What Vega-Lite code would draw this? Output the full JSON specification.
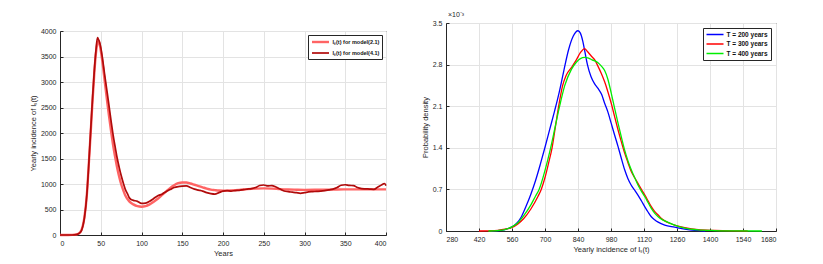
{
  "$schema": "https://vega.github.io/schema/vega-lite/v6.json",
  "padding": {"left": 28, "top": 10, "right": 5, "bottom": 4},
  "background": "white",
  "spacing": 28,
  "resolve": {"scale": {"color": "independent", "strokeWidth": "independent"}, "legend": {"color": "independent", "strokeWidth": "independent"}},
  "config": {
    "font": "Liberation Sans",
    "view": {"stroke": "#262626", "strokeWidth": 1},
    "axis": {"labelFont": "Liberation Sans", "labelFontSize": 7, "labelColor": "#262626", "titleFont": "Liberation Sans", "titleFontSize": 7.5, "titleFontWeight": "normal", "titleColor": "#262626", "domainColor": "#262626", "gridColor": "#e3e3e3", "ticks": true, "tickSize": -3, "tickColor": "#262626", "labelPadding": 7, "titlePadding": 3, "format": "d"},
    "legend": {"orient": "top-right", "offset": 5, "fillColor": "white", "strokeColor": "#262626", "padding": 2.5, "labelFont": "Liberation Sans", "labelFontSize": 6.5, "labelFontWeight": "bold", "labelColor": "#111", "symbolType": "M-1,0H4.67", "symbolSize": 36, "symbolStrokeWidth": 1.5, "labelOffset": 13, "rowPadding": 1.5, "title": null}
  },
  "datasets": {
    "incidence": [
      {"year": 0, "series": "Iₛ(t) for model(2.1)", "value": 0},
      {"year": 10, "series": "Iₛ(t) for model(2.1)", "value": 0},
      {"year": 15, "series": "Iₛ(t) for model(2.1)", "value": 2},
      {"year": 20, "series": "Iₛ(t) for model(2.1)", "value": 10},
      {"year": 25, "series": "Iₛ(t) for model(2.1)", "value": 60},
      {"year": 28, "series": "Iₛ(t) for model(2.1)", "value": 180},
      {"year": 30, "series": "Iₛ(t) for model(2.1)", "value": 350},
      {"year": 33, "series": "Iₛ(t) for model(2.1)", "value": 800},
      {"year": 35, "series": "Iₛ(t) for model(2.1)", "value": 1300},
      {"year": 38, "series": "Iₛ(t) for model(2.1)", "value": 2100},
      {"year": 40, "series": "Iₛ(t) for model(2.1)", "value": 2650},
      {"year": 42, "series": "Iₛ(t) for model(2.1)", "value": 3150},
      {"year": 44, "series": "Iₛ(t) for model(2.1)", "value": 3550},
      {"year": 46, "series": "Iₛ(t) for model(2.1)", "value": 3770},
      {"year": 47, "series": "Iₛ(t) for model(2.1)", "value": 3800},
      {"year": 48, "series": "Iₛ(t) for model(2.1)", "value": 3780},
      {"year": 50, "series": "Iₛ(t) for model(2.1)", "value": 3620},
      {"year": 52, "series": "Iₛ(t) for model(2.1)", "value": 3400},
      {"year": 55, "series": "Iₛ(t) for model(2.1)", "value": 3000},
      {"year": 58, "series": "Iₛ(t) for model(2.1)", "value": 2600},
      {"year": 60, "series": "Iₛ(t) for model(2.1)", "value": 2350},
      {"year": 63, "series": "Iₛ(t) for model(2.1)", "value": 2000},
      {"year": 65, "series": "Iₛ(t) for model(2.1)", "value": 1780},
      {"year": 68, "series": "Iₛ(t) for model(2.1)", "value": 1500},
      {"year": 70, "series": "Iₛ(t) for model(2.1)", "value": 1330},
      {"year": 73, "series": "Iₛ(t) for model(2.1)", "value": 1120},
      {"year": 75, "series": "Iₛ(t) for model(2.1)", "value": 1000},
      {"year": 78, "series": "Iₛ(t) for model(2.1)", "value": 860},
      {"year": 80, "series": "Iₛ(t) for model(2.1)", "value": 780},
      {"year": 85, "series": "Iₛ(t) for model(2.1)", "value": 660},
      {"year": 90, "series": "Iₛ(t) for model(2.1)", "value": 600},
      {"year": 95, "series": "Iₛ(t) for model(2.1)", "value": 565},
      {"year": 100, "series": "Iₛ(t) for model(2.1)", "value": 555},
      {"year": 105, "series": "Iₛ(t) for model(2.1)", "value": 565},
      {"year": 110, "series": "Iₛ(t) for model(2.1)", "value": 600},
      {"year": 115, "series": "Iₛ(t) for model(2.1)", "value": 650},
      {"year": 120, "series": "Iₛ(t) for model(2.1)", "value": 710},
      {"year": 125, "series": "Iₛ(t) for model(2.1)", "value": 780},
      {"year": 130, "series": "Iₛ(t) for model(2.1)", "value": 850},
      {"year": 135, "series": "Iₛ(t) for model(2.1)", "value": 920},
      {"year": 140, "series": "Iₛ(t) for model(2.1)", "value": 975},
      {"year": 145, "series": "Iₛ(t) for model(2.1)", "value": 1015},
      {"year": 150, "series": "Iₛ(t) for model(2.1)", "value": 1030},
      {"year": 155, "series": "Iₛ(t) for model(2.1)", "value": 1030},
      {"year": 160, "series": "Iₛ(t) for model(2.1)", "value": 1010},
      {"year": 165, "series": "Iₛ(t) for model(2.1)", "value": 985},
      {"year": 170, "series": "Iₛ(t) for model(2.1)", "value": 960},
      {"year": 175, "series": "Iₛ(t) for model(2.1)", "value": 935},
      {"year": 180, "series": "Iₛ(t) for model(2.1)", "value": 910},
      {"year": 185, "series": "Iₛ(t) for model(2.1)", "value": 890},
      {"year": 190, "series": "Iₛ(t) for model(2.1)", "value": 880},
      {"year": 195, "series": "Iₛ(t) for model(2.1)", "value": 872},
      {"year": 200, "series": "Iₛ(t) for model(2.1)", "value": 870},
      {"year": 210, "series": "Iₛ(t) for model(2.1)", "value": 875},
      {"year": 220, "series": "Iₛ(t) for model(2.1)", "value": 885},
      {"year": 230, "series": "Iₛ(t) for model(2.1)", "value": 900},
      {"year": 240, "series": "Iₛ(t) for model(2.1)", "value": 910},
      {"year": 250, "series": "Iₛ(t) for model(2.1)", "value": 915},
      {"year": 260, "series": "Iₛ(t) for model(2.1)", "value": 910},
      {"year": 270, "series": "Iₛ(t) for model(2.1)", "value": 900},
      {"year": 280, "series": "Iₛ(t) for model(2.1)", "value": 893},
      {"year": 290, "series": "Iₛ(t) for model(2.1)", "value": 888},
      {"year": 300, "series": "Iₛ(t) for model(2.1)", "value": 885},
      {"year": 320, "series": "Iₛ(t) for model(2.1)", "value": 888},
      {"year": 340, "series": "Iₛ(t) for model(2.1)", "value": 893},
      {"year": 360, "series": "Iₛ(t) for model(2.1)", "value": 895},
      {"year": 380, "series": "Iₛ(t) for model(2.1)", "value": 895},
      {"year": 400, "series": "Iₛ(t) for model(2.1)", "value": 895},
      {"year": 0, "series": "Iₛ(t) for model(4.1)", "value": 0},
      {"year": 15, "series": "Iₛ(t) for model(4.1)", "value": 0},
      {"year": 20, "series": "Iₛ(t) for model(4.1)", "value": 8},
      {"year": 25, "series": "Iₛ(t) for model(4.1)", "value": 50},
      {"year": 28, "series": "Iₛ(t) for model(4.1)", "value": 170},
      {"year": 30, "series": "Iₛ(t) for model(4.1)", "value": 340},
      {"year": 33, "series": "Iₛ(t) for model(4.1)", "value": 800},
      {"year": 35, "series": "Iₛ(t) for model(4.1)", "value": 1300},
      {"year": 38, "series": "Iₛ(t) for model(4.1)", "value": 2150},
      {"year": 40, "series": "Iₛ(t) for model(4.1)", "value": 2700},
      {"year": 42, "series": "Iₛ(t) for model(4.1)", "value": 3200},
      {"year": 44, "series": "Iₛ(t) for model(4.1)", "value": 3600},
      {"year": 46, "series": "Iₛ(t) for model(4.1)", "value": 3870},
      {"year": 47, "series": "Iₛ(t) for model(4.1)", "value": 3840},
      {"year": 48, "series": "Iₛ(t) for model(4.1)", "value": 3810},
      {"year": 50, "series": "Iₛ(t) for model(4.1)", "value": 3680},
      {"year": 52, "series": "Iₛ(t) for model(4.1)", "value": 3480},
      {"year": 55, "series": "Iₛ(t) for model(4.1)", "value": 3120},
      {"year": 58, "series": "Iₛ(t) for model(4.1)", "value": 2780},
      {"year": 60, "series": "Iₛ(t) for model(4.1)", "value": 2550},
      {"year": 63, "series": "Iₛ(t) for model(4.1)", "value": 2200},
      {"year": 65, "series": "Iₛ(t) for model(4.1)", "value": 1980},
      {"year": 68, "series": "Iₛ(t) for model(4.1)", "value": 1700},
      {"year": 70, "series": "Iₛ(t) for model(4.1)", "value": 1520},
      {"year": 73, "series": "Iₛ(t) for model(4.1)", "value": 1300},
      {"year": 75, "series": "Iₛ(t) for model(4.1)", "value": 1170},
      {"year": 78, "series": "Iₛ(t) for model(4.1)", "value": 1000},
      {"year": 80, "series": "Iₛ(t) for model(4.1)", "value": 900},
      {"year": 83, "series": "Iₛ(t) for model(4.1)", "value": 800},
      {"year": 85, "series": "Iₛ(t) for model(4.1)", "value": 730},
      {"year": 88, "series": "Iₛ(t) for model(4.1)", "value": 690},
      {"year": 90, "series": "Iₛ(t) for model(4.1)", "value": 680},
      {"year": 95, "series": "Iₛ(t) for model(4.1)", "value": 660},
      {"year": 100, "series": "Iₛ(t) for model(4.1)", "value": 620},
      {"year": 105, "series": "Iₛ(t) for model(4.1)", "value": 625},
      {"year": 110, "series": "Iₛ(t) for model(4.1)", "value": 660},
      {"year": 115, "series": "Iₛ(t) for model(4.1)", "value": 715},
      {"year": 120, "series": "Iₛ(t) for model(4.1)", "value": 770},
      {"year": 125, "series": "Iₛ(t) for model(4.1)", "value": 800},
      {"year": 130, "series": "Iₛ(t) for model(4.1)", "value": 850},
      {"year": 135, "series": "Iₛ(t) for model(4.1)", "value": 890},
      {"year": 140, "series": "Iₛ(t) for model(4.1)", "value": 930},
      {"year": 145, "series": "Iₛ(t) for model(4.1)", "value": 950},
      {"year": 150, "series": "Iₛ(t) for model(4.1)", "value": 960},
      {"year": 155, "series": "Iₛ(t) for model(4.1)", "value": 965},
      {"year": 160, "series": "Iₛ(t) for model(4.1)", "value": 930},
      {"year": 165, "series": "Iₛ(t) for model(4.1)", "value": 900},
      {"year": 170, "series": "Iₛ(t) for model(4.1)", "value": 880},
      {"year": 175, "series": "Iₛ(t) for model(4.1)", "value": 860},
      {"year": 180, "series": "Iₛ(t) for model(4.1)", "value": 830},
      {"year": 185, "series": "Iₛ(t) for model(4.1)", "value": 810},
      {"year": 190, "series": "Iₛ(t) for model(4.1)", "value": 800},
      {"year": 195, "series": "Iₛ(t) for model(4.1)", "value": 830},
      {"year": 200, "series": "Iₛ(t) for model(4.1)", "value": 860},
      {"year": 205, "series": "Iₛ(t) for model(4.1)", "value": 870},
      {"year": 210, "series": "Iₛ(t) for model(4.1)", "value": 862},
      {"year": 215, "series": "Iₛ(t) for model(4.1)", "value": 872},
      {"year": 220, "series": "Iₛ(t) for model(4.1)", "value": 875},
      {"year": 225, "series": "Iₛ(t) for model(4.1)", "value": 890},
      {"year": 230, "series": "Iₛ(t) for model(4.1)", "value": 900},
      {"year": 235, "series": "Iₛ(t) for model(4.1)", "value": 910},
      {"year": 240, "series": "Iₛ(t) for model(4.1)", "value": 930},
      {"year": 245, "series": "Iₛ(t) for model(4.1)", "value": 970},
      {"year": 250, "series": "Iₛ(t) for model(4.1)", "value": 980},
      {"year": 255, "series": "Iₛ(t) for model(4.1)", "value": 962},
      {"year": 260, "series": "Iₛ(t) for model(4.1)", "value": 970},
      {"year": 265, "series": "Iₛ(t) for model(4.1)", "value": 940},
      {"year": 270, "series": "Iₛ(t) for model(4.1)", "value": 900},
      {"year": 275, "series": "Iₛ(t) for model(4.1)", "value": 862},
      {"year": 280, "series": "Iₛ(t) for model(4.1)", "value": 850},
      {"year": 285, "series": "Iₛ(t) for model(4.1)", "value": 840},
      {"year": 290, "series": "Iₛ(t) for model(4.1)", "value": 830},
      {"year": 295, "series": "Iₛ(t) for model(4.1)", "value": 818},
      {"year": 300, "series": "Iₛ(t) for model(4.1)", "value": 830},
      {"year": 305, "series": "Iₛ(t) for model(4.1)", "value": 845},
      {"year": 310, "series": "Iₛ(t) for model(4.1)", "value": 850},
      {"year": 315, "series": "Iₛ(t) for model(4.1)", "value": 855},
      {"year": 320, "series": "Iₛ(t) for model(4.1)", "value": 860},
      {"year": 325, "series": "Iₛ(t) for model(4.1)", "value": 870},
      {"year": 330, "series": "Iₛ(t) for model(4.1)", "value": 885},
      {"year": 335, "series": "Iₛ(t) for model(4.1)", "value": 900},
      {"year": 340, "series": "Iₛ(t) for model(4.1)", "value": 930},
      {"year": 345, "series": "Iₛ(t) for model(4.1)", "value": 975},
      {"year": 350, "series": "Iₛ(t) for model(4.1)", "value": 985},
      {"year": 355, "series": "Iₛ(t) for model(4.1)", "value": 972},
      {"year": 360, "series": "Iₛ(t) for model(4.1)", "value": 970},
      {"year": 365, "series": "Iₛ(t) for model(4.1)", "value": 930},
      {"year": 370, "series": "Iₛ(t) for model(4.1)", "value": 910},
      {"year": 375, "series": "Iₛ(t) for model(4.1)", "value": 905},
      {"year": 380, "series": "Iₛ(t) for model(4.1)", "value": 900},
      {"year": 385, "series": "Iₛ(t) for model(4.1)", "value": 895},
      {"year": 390, "series": "Iₛ(t) for model(4.1)", "value": 940},
      {"year": 395, "series": "Iₛ(t) for model(4.1)", "value": 985},
      {"year": 398, "series": "Iₛ(t) for model(4.1)", "value": 1010},
      {"year": 400, "series": "Iₛ(t) for model(4.1)", "value": 970}
    ],
    "density": [
      {"incidence": 470, "T": "T = 200 years", "density": 0},
      {"incidence": 500, "T": "T = 200 years", "density": 0.000005},
      {"incidence": 530, "T": "T = 200 years", "density": 0.000025},
      {"incidence": 560, "T": "T = 200 years", "density": 0.00007},
      {"incidence": 580, "T": "T = 200 years", "density": 0.00013},
      {"incidence": 600, "T": "T = 200 years", "density": 0.00024},
      {"incidence": 620, "T": "T = 200 years", "density": 0.00042},
      {"incidence": 640, "T": "T = 200 years", "density": 0.00062},
      {"incidence": 660, "T": "T = 200 years", "density": 0.00085},
      {"incidence": 680, "T": "T = 200 years", "density": 0.00112},
      {"incidence": 700, "T": "T = 200 years", "density": 0.00141},
      {"incidence": 720, "T": "T = 200 years", "density": 0.00171},
      {"incidence": 740, "T": "T = 200 years", "density": 0.00201},
      {"incidence": 760, "T": "T = 200 years", "density": 0.00233},
      {"incidence": 780, "T": "T = 200 years", "density": 0.0027},
      {"incidence": 800, "T": "T = 200 years", "density": 0.00305},
      {"incidence": 820, "T": "T = 200 years", "density": 0.00328},
      {"incidence": 840, "T": "T = 200 years", "density": 0.00337},
      {"incidence": 850, "T": "T = 200 years", "density": 0.00333},
      {"incidence": 860, "T": "T = 200 years", "density": 0.0032},
      {"incidence": 870, "T": "T = 200 years", "density": 0.003},
      {"incidence": 880, "T": "T = 200 years", "density": 0.0028},
      {"incidence": 895, "T": "T = 200 years", "density": 0.0026},
      {"incidence": 910, "T": "T = 200 years", "density": 0.00248},
      {"incidence": 925, "T": "T = 200 years", "density": 0.0024},
      {"incidence": 940, "T": "T = 200 years", "density": 0.0023},
      {"incidence": 953, "T": "T = 200 years", "density": 0.00215},
      {"incidence": 967, "T": "T = 200 years", "density": 0.002},
      {"incidence": 981, "T": "T = 200 years", "density": 0.00181},
      {"incidence": 995, "T": "T = 200 years", "density": 0.00162},
      {"incidence": 1010, "T": "T = 200 years", "density": 0.00142},
      {"incidence": 1024, "T": "T = 200 years", "density": 0.00122},
      {"incidence": 1038, "T": "T = 200 years", "density": 0.00103},
      {"incidence": 1052, "T": "T = 200 years", "density": 0.00088},
      {"incidence": 1066, "T": "T = 200 years", "density": 0.00077},
      {"incidence": 1080, "T": "T = 200 years", "density": 0.00069},
      {"incidence": 1095, "T": "T = 200 years", "density": 0.0006},
      {"incidence": 1110, "T": "T = 200 years", "density": 0.0005},
      {"incidence": 1123, "T": "T = 200 years", "density": 0.00041},
      {"incidence": 1137, "T": "T = 200 years", "density": 0.00032},
      {"incidence": 1151, "T": "T = 200 years", "density": 0.00024},
      {"incidence": 1165, "T": "T = 200 years", "density": 0.00019},
      {"incidence": 1180, "T": "T = 200 years", "density": 0.00015},
      {"incidence": 1208, "T": "T = 200 years", "density": 0.0001},
      {"incidence": 1250, "T": "T = 200 years", "density": 0.000065},
      {"incidence": 1293, "T": "T = 200 years", "density": 0.00003},
      {"incidence": 1335, "T": "T = 200 years", "density": 0.00001},
      {"incidence": 1380, "T": "T = 200 years", "density": 0},
      {"incidence": 420, "T": "T = 300 years", "density": 0},
      {"incidence": 460, "T": "T = 300 years", "density": 0.000003},
      {"incidence": 500, "T": "T = 300 years", "density": 0.000012},
      {"incidence": 530, "T": "T = 300 years", "density": 0.00003},
      {"incidence": 560, "T": "T = 300 years", "density": 0.00006},
      {"incidence": 585, "T": "T = 300 years", "density": 0.00012},
      {"incidence": 610, "T": "T = 300 years", "density": 0.00021},
      {"incidence": 640, "T": "T = 300 years", "density": 0.00037},
      {"incidence": 670, "T": "T = 300 years", "density": 0.00058},
      {"incidence": 684, "T": "T = 300 years", "density": 0.0007},
      {"incidence": 700, "T": "T = 300 years", "density": 0.0009},
      {"incidence": 715, "T": "T = 300 years", "density": 0.00114},
      {"incidence": 730, "T": "T = 300 years", "density": 0.0014},
      {"incidence": 744, "T": "T = 300 years", "density": 0.00175},
      {"incidence": 758, "T": "T = 300 years", "density": 0.0021},
      {"incidence": 775, "T": "T = 300 years", "density": 0.00245},
      {"incidence": 790, "T": "T = 300 years", "density": 0.00262},
      {"incidence": 812, "T": "T = 300 years", "density": 0.00275},
      {"incidence": 833, "T": "T = 300 years", "density": 0.00288},
      {"incidence": 850, "T": "T = 300 years", "density": 0.003},
      {"incidence": 868, "T": "T = 300 years", "density": 0.00307},
      {"incidence": 880, "T": "T = 300 years", "density": 0.00302},
      {"incidence": 897, "T": "T = 300 years", "density": 0.00294},
      {"incidence": 911, "T": "T = 300 years", "density": 0.00288},
      {"incidence": 925, "T": "T = 300 years", "density": 0.00277},
      {"incidence": 939, "T": "T = 300 years", "density": 0.00265},
      {"incidence": 953, "T": "T = 300 years", "density": 0.00251},
      {"incidence": 967, "T": "T = 300 years", "density": 0.00234},
      {"incidence": 981, "T": "T = 300 years", "density": 0.00215},
      {"incidence": 995, "T": "T = 300 years", "density": 0.00193},
      {"incidence": 1010, "T": "T = 300 years", "density": 0.0017},
      {"incidence": 1024, "T": "T = 300 years", "density": 0.0015},
      {"incidence": 1038, "T": "T = 300 years", "density": 0.00131},
      {"incidence": 1052, "T": "T = 300 years", "density": 0.00115},
      {"incidence": 1066, "T": "T = 300 years", "density": 0.001},
      {"incidence": 1080, "T": "T = 300 years", "density": 0.0009},
      {"incidence": 1095, "T": "T = 300 years", "density": 0.0008},
      {"incidence": 1109, "T": "T = 300 years", "density": 0.0007},
      {"incidence": 1123, "T": "T = 300 years", "density": 0.00061},
      {"incidence": 1137, "T": "T = 300 years", "density": 0.00051},
      {"incidence": 1151, "T": "T = 300 years", "density": 0.00041},
      {"incidence": 1165, "T": "T = 300 years", "density": 0.00033},
      {"incidence": 1180, "T": "T = 300 years", "density": 0.00027},
      {"incidence": 1194, "T": "T = 300 years", "density": 0.00021},
      {"incidence": 1208, "T": "T = 300 years", "density": 0.00017},
      {"incidence": 1230, "T": "T = 300 years", "density": 0.00013},
      {"incidence": 1250, "T": "T = 300 years", "density": 0.0001},
      {"incidence": 1293, "T": "T = 300 years", "density": 0.000056},
      {"incidence": 1350, "T": "T = 300 years", "density": 0.000022},
      {"incidence": 1420, "T": "T = 300 years", "density": 0.00001},
      {"incidence": 1500, "T": "T = 300 years", "density": 0.000003},
      {"incidence": 1560, "T": "T = 300 years", "density": 0},
      {"incidence": 460, "T": "T = 400 years", "density": 0},
      {"incidence": 500, "T": "T = 400 years", "density": 0.000008},
      {"incidence": 530, "T": "T = 400 years", "density": 0.000025},
      {"incidence": 560, "T": "T = 400 years", "density": 0.00007},
      {"incidence": 585, "T": "T = 400 years", "density": 0.00014},
      {"incidence": 610, "T": "T = 400 years", "density": 0.00026},
      {"incidence": 640, "T": "T = 400 years", "density": 0.00044},
      {"incidence": 660, "T": "T = 400 years", "density": 0.00059},
      {"incidence": 675, "T": "T = 400 years", "density": 0.0007},
      {"incidence": 700, "T": "T = 400 years", "density": 0.00102},
      {"incidence": 724, "T": "T = 400 years", "density": 0.0014},
      {"incidence": 743, "T": "T = 400 years", "density": 0.00175},
      {"incidence": 762, "T": "T = 400 years", "density": 0.0021},
      {"incidence": 784, "T": "T = 400 years", "density": 0.00245},
      {"incidence": 812, "T": "T = 400 years", "density": 0.00272},
      {"incidence": 833, "T": "T = 400 years", "density": 0.00284},
      {"incidence": 850, "T": "T = 400 years", "density": 0.0029},
      {"incidence": 868, "T": "T = 400 years", "density": 0.00292},
      {"incidence": 885, "T": "T = 400 years", "density": 0.00291},
      {"incidence": 900, "T": "T = 400 years", "density": 0.00288},
      {"incidence": 925, "T": "T = 400 years", "density": 0.00283},
      {"incidence": 940, "T": "T = 400 years", "density": 0.00277},
      {"incidence": 953, "T": "T = 400 years", "density": 0.0027},
      {"incidence": 967, "T": "T = 400 years", "density": 0.00255},
      {"incidence": 981, "T": "T = 400 years", "density": 0.00232},
      {"incidence": 995, "T": "T = 400 years", "density": 0.00207},
      {"incidence": 1010, "T": "T = 400 years", "density": 0.00181},
      {"incidence": 1024, "T": "T = 400 years", "density": 0.00158},
      {"incidence": 1038, "T": "T = 400 years", "density": 0.00136},
      {"incidence": 1052, "T": "T = 400 years", "density": 0.00118},
      {"incidence": 1066, "T": "T = 400 years", "density": 0.00103},
      {"incidence": 1080, "T": "T = 400 years", "density": 0.0009},
      {"incidence": 1095, "T": "T = 400 years", "density": 0.00077},
      {"incidence": 1109, "T": "T = 400 years", "density": 0.00067},
      {"incidence": 1123, "T": "T = 400 years", "density": 0.00058},
      {"incidence": 1137, "T": "T = 400 years", "density": 0.00048},
      {"incidence": 1151, "T": "T = 400 years", "density": 0.00038},
      {"incidence": 1165, "T": "T = 400 years", "density": 0.0003},
      {"incidence": 1180, "T": "T = 400 years", "density": 0.00024},
      {"incidence": 1194, "T": "T = 400 years", "density": 0.0002},
      {"incidence": 1208, "T": "T = 400 years", "density": 0.00017},
      {"incidence": 1250, "T": "T = 400 years", "density": 0.0001},
      {"incidence": 1293, "T": "T = 400 years", "density": 0.00005},
      {"incidence": 1350, "T": "T = 400 years", "density": 0.00002},
      {"incidence": 1420, "T": "T = 400 years", "density": 0.000008},
      {"incidence": 1500, "T": "T = 400 years", "density": 0.000003},
      {"incidence": 1620, "T": "T = 400 years", "density": 0}
    ]
  },
  "hconcat": [
    {
      "spacing": 2,
      "resolve": {"legend": {"color": "independent", "strokeWidth": "independent"}},
      "vconcat": [
        {
          "width": 326,
          "height": 1,
          "view": {"stroke": null},
          "data": {"values": [{"v": 0}]},
          "mark": {"type": "point", "opacity": 0, "size": 0, "strokeWidth": 0},
          "encoding": {}
        },
        {
          "width": 326,
          "height": 204,
          "data": {"name": "incidence"},
          "mark": {"type": "line", "interpolate": "monotone"},
          "encoding": {
            "x": {"field": "year", "type": "quantitative", "scale": {"domain": [0, 400], "nice": false}, "axis": {"values": [0, 50, 100, 150, 200, 250, 300, 350, 400], "title": "Years"}},
            "y": {"field": "value", "type": "quantitative", "scale": {"domain": [0, 4000], "nice": false}, "axis": {"values": [0, 500, 1000, 1500, 2000, 2500, 3000, 3500, 4000], "title": "Yearly incidence of Iₛ(t)"}},
            "color": {"field": "series", "type": "nominal", "scale": {"domain": ["Iₛ(t) for model(2.1)", "Iₛ(t) for model(4.1)"], "range": ["#ff6464", "#b00a0a"]}, "legend": {"labelFontSize": 5.5, "offset": 4}},
            "strokeWidth": {"field": "series", "type": "nominal", "scale": {"domain": ["Iₛ(t) for model(2.1)", "Iₛ(t) for model(4.1)"], "range": [2.4, 1.7]}}
          }
        }
      ]
    },
    {
      "width": 330,
      "height": 208,
      "title": {"text": "×10⁻³", "anchor": "start", "frame": "group", "dx": 2, "fontSize": 7, "fontWeight": "normal", "offset": 1, "color": "#262626"},
      "data": {"name": "density"},
      "mark": {"type": "line", "interpolate": "monotone", "strokeWidth": 1.3},
      "encoding": {
        "x": {"field": "incidence", "type": "quantitative", "scale": {"domain": [280, 1680], "nice": false}, "axis": {"values": [280, 420, 560, 700, 840, 980, 1120, 1260, 1400, 1540, 1680], "title": "Yearly incidence of Iₛ(t)"}},
        "y": {"field": "density", "type": "quantitative", "scale": {"domain": [0, 0.0035], "nice": false}, "axis": {"values": [0, 0.0007, 0.0014, 0.0021, 0.0028, 0.0035], "labelExpr": "datum.value == 0 ? '0' : format(datum.value * 1000, '.1f')", "title": "Probability density"}},
        "color": {"field": "T", "type": "nominal", "scale": {"domain": ["T = 200 years", "T = 300 years", "T = 400 years"], "range": ["#0000ff", "#ff0000", "#00ee00"]}, "legend": {"offset": 5}}
      }
    }
  ]
}
